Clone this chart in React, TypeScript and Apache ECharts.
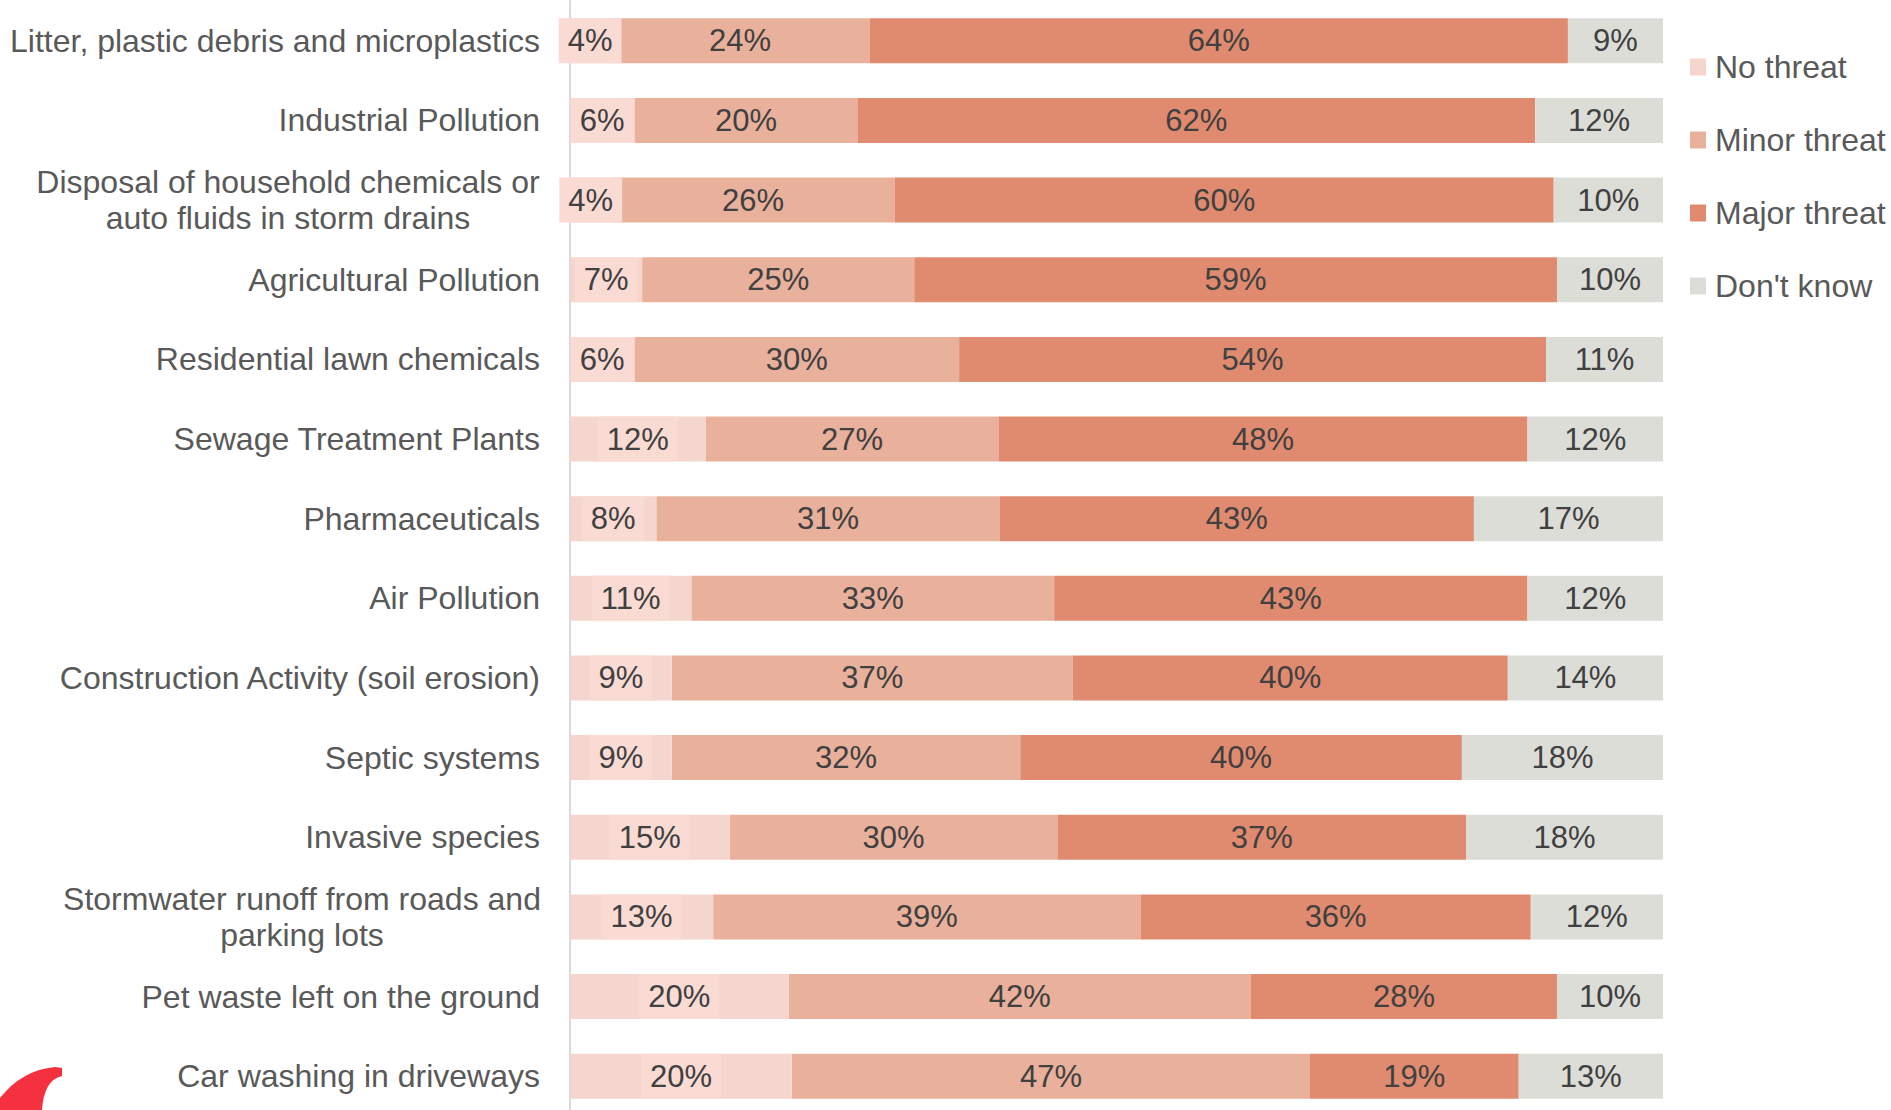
import React, { useEffect, useRef } from "react";
import * as echarts from "echarts";

const categories = [
  "Litter, plastic debris and microplastics",
  "Industrial Pollution",
  "Disposal of household chemicals or\nauto fluids in storm drains",
  "Agricultural Pollution",
  "Residential lawn chemicals",
  "Sewage Treatment Plants",
  "Pharmaceuticals",
  "Air Pollution",
  "Construction Activity (soil erosion)",
  "Septic systems",
  "Invasive species",
  "Stormwater runoff from roads and\nparking lots",
  "Pet waste left on the ground",
  "Car washing in driveways",
];

const seriesNames = ["No threat", "Minor threat", "Major threat", "Don't know"];

const noThreat = [3.7, 5.9, 3.8, 6.6, 5.9, 12.4, 7.9, 11.1, 9.3, 9.3, 14.6, 13.1, 20.0, 20.3];
const minorThreat = [23.7, 20.4, 25.9, 24.9, 29.7, 26.8, 31.4, 33.2, 36.7, 31.9, 30.0, 39.1, 42.3, 47.4];
const majorThreat = [63.9, 62.0, 60.3, 58.8, 53.7, 48.4, 43.4, 43.3, 39.8, 40.4, 37.4, 35.7, 28.0, 19.1];
const dontKnow = [8.7, 11.7, 10.0, 9.7, 10.7, 12.4, 17.3, 12.4, 14.2, 18.4, 18.0, 12.1, 9.7, 13.2];

const colors = ["#F5D6CE", "#E9B09C", "#E08B6F", "#DDDDD8"];
const FONT = "'Liberation Sans', Arial, sans-serif";

const LOGO_D =
  "M0,1110 L0,1098 Q22,1070 55,1067 L62,1068 L62,1076 Q44,1080 42,1110 Z";

let logoRegistered = false;

export default function App() {
  const ref = useRef<HTMLDivElement>(null);

  useEffect(() => {
    if (!ref.current) return;
    if (!logoRegistered) {
      echarts.graphic.registerShape("logo", echarts.graphic.extendPath(LOGO_D, {}));
      logoRegistered = true;
    }
    const chart = echarts.init(ref.current, null, { renderer: "svg" });

    const values = [noThreat, minorThreat, majorThreat, dontKnow];

    const series = values.map((arr, idx) => ({
      name: seriesNames[idx],
      type: "bar",
      stack: "total",
      barWidth: 45,
      z: idx === 0 ? 3 : 2,
      itemStyle: { color: colors[idx] },
      data: arr,
      label: {
        show: true,
        position: "inside",
        formatter: (p: any) => Math.round(p.value) + "%",
        fontFamily: FONT,
        fontSize: 31,
        color: "#404040",
        ...(idx === 0
          ? { backgroundColor: "#F9DBD4", padding: [0, 9], lineHeight: 45 }
          : {}),
      },
      emphasis: { disabled: true },
    }));

    const option: any = {
      animation: false,
      backgroundColor: "#ffffff",
      textStyle: { fontFamily: FONT },
      grid: { left: 570, top: 1, width: 1093, height: 1115, containLabel: false },
      xAxis: {
        type: "value",
        min: 0,
        max: 100,
        show: false,
      },
      yAxis: {
        type: "category",
        inverse: true,
        data: categories,
        axisLine: { show: true, lineStyle: { color: "#D9D9D9", width: 2 } },
        axisTick: { show: false },
        splitLine: { show: false },
        axisLabel: {
          margin: 30,
          fontFamily: FONT,
          fontSize: 32,
          color: "#595959",
          lineHeight: 36,
          formatter: (v: string) => {
            if (v.indexOf("\n") < 0) return v;
            const key = v.startsWith("Disposal") ? "d" : "s";
            return v
              .split("\n")
              .map((l) => `{${key}|${l}}`)
              .join("\n");
          },
          rich: {
            d: { width: 504, align: "center", fontFamily: FONT, fontSize: 32, color: "#595959", lineHeight: 36 },
            s: { width: 476, align: "center", fontFamily: FONT, fontSize: 32, color: "#595959", lineHeight: 36 },
          },
        },
      },
      legend: {
        orient: "vertical",
        left: 1690,
        top: 51,
        padding: 0,
        itemWidth: 16,
        itemHeight: 17,
        itemGap: 41,
        icon: "rect",
        data: seriesNames,
        selectedMode: false,
        textStyle: {
          fontFamily: FONT,
          fontSize: 32,
          color: "#595959",
          lineHeight: 32,
          padding: [0, 0, 0, 4],
        },
      },
      graphic: [
        {
          type: "logo",
          x: 0,
          y: 0,
          silent: true,
          style: { fill: "#F5303F" },
        },
      ],
      series,
    };

    chart.setOption(option);
    return () => chart.dispose();
  }, []);

  return (
    <div
      ref={ref}
      style={{ position: "fixed", left: 0, top: 0, width: 1891, height: 1125, background: "#fff" }}
    />
  );
}
